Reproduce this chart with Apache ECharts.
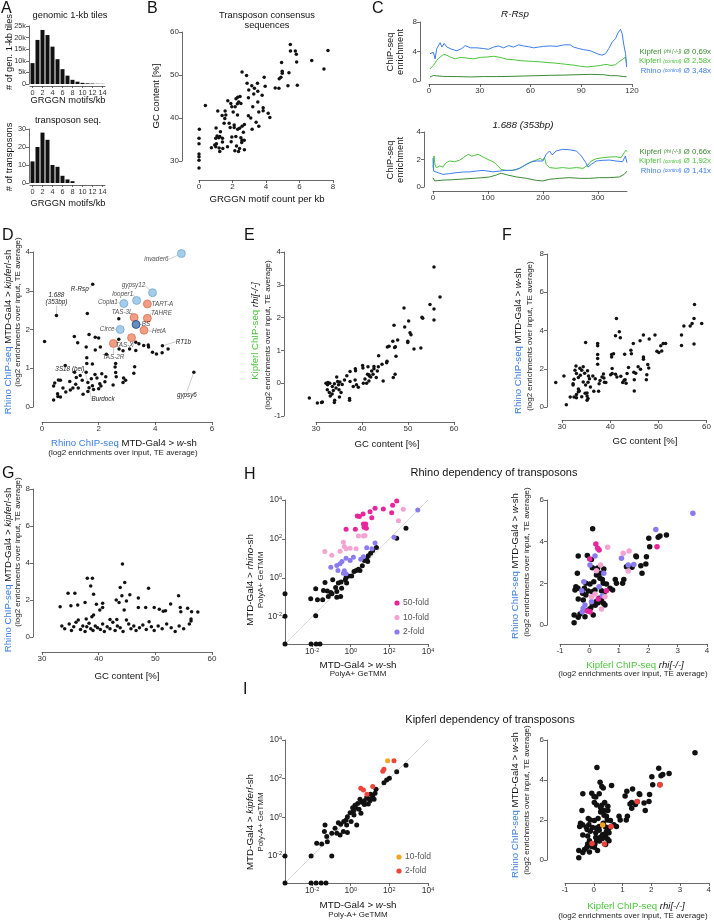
<!DOCTYPE html>
<html><head><meta charset="utf-8">
<script src="https://cdn.jsdelivr.net/npm/echarts@6/dist/echarts.min.js"></script>
<style>html,body{margin:0;padding:0;background:#fff}#c{width:714px;height:921px}</style>
</head><body><div id="c"></div><script>
// ---------------- DATA ----------------
const motifBins = ['0','1','2','3','4','5','6','7','8','9','10','11','12','13','14'];
const genomeTileCounts = [9000,19000,23300,21100,16100,10700,6400,3600,1800,1000,500,300,200,100,80];
const transposonCounts = [12,20,28,24,10,9,4,2,1,0,0,0,0,0,0];

// B: [GRGGN motif count per kb, GC content %]
const bPoints = [[5.45,57.1],[7.7,55.7],[5.46,55.6],[5.75,55.6],[5.81,54.8],[4.93,52.9],[5.83,53],[6.73,53.4],[7.46,51.4],[2.57,50.7],[2.84,49.9],[4.97,50.9],[4.97,50.4],[5.37,50.5],[4.89,49.5],[4.79,49.1],[3.89,49.5],[2.87,48.1],[3.49,48.1],[3.15,47.5],[3.31,46.9],[3.95,47.4],[4.55,47],[4.77,46.9],[5.31,47.5],[5.87,47.6],[2.97,46.5],[3.51,46.2],[3.27,45.6],[3.77,45.3],[2.95,44.7],[2.45,45],[2.31,44.8],[2.21,44.5],[1.72,44],[0.38,42.9],[2.37,43.7],[1.9,43.4],[2.29,43.3],[2.5,43.4],[1.12,41.6],[1.56,41.6],[1.96,42.6],[2.04,41.4],[2.16,42.6],[3.51,43.7],[3.21,42.6],[3.83,42.4],[3.83,41.7],[3.57,41.4],[4.13,41.1],[4.23,40.1],[1.38,40.6],[1.6,40.7],[1.54,39.9],[1.5,38.8],[1.8,38.8],[2.1,38.4],[2.3,40.7],[2.95,40.5],[3.09,40],[2.71,38.5],[3.41,39],[3.57,38.1],[3.17,37.4],[2.31,37.4],[1.02,37.7],[1.28,36.8],[1.86,37.8],[2.1,37.8],[2.42,37.6],[2.57,38.1],[2.65,36.7],[1.08,35.8],[1.24,35.7],[1.0,35.3],[1.18,35.4],[1.4,35.3],[1.96,35.6],[2.2,35.7],[2.5,35.4],[2.7,34.8],[2.55,34.3],[1.92,34.5],[1.4,34.4],[1.04,34],[0.94,33.7],[1.0,33.3],[0.74,33.1],[1.7,33.3],[1.2,33],[1.42,32.9],[2.24,33.5],[2.14,32.4],[2.36,32.2],[2.42,32.9],[2.71,32.6],[2.57,34.8],[1.24,32.2],[0.02,37.4],[0,35.3],[0,34],[0,31.6],[0,31],[0,30.2],[0,28.4]];

// C top (R-Rsp): [position, enrichment]
const rrspRhino = [[0.6,3.7],[2.6,3.9],[3.6,3.0],[4.6,4.4],[6.6,5.2],[7.6,4.6],[9,5.1],[10.6,4.6],[13.5,4.3],[16.5,4.1],[19.4,4.4],[21.4,4.8],[24.4,4.5],[28.3,4.5],[32.3,4.4],[35.2,4.3],[38.2,4.6],[41.1,4.75],[44.1,4.5],[47.1,4.8],[50,4.6],[53,4.9],[56,4.75],[58.9,4.65],[61.9,4.5],[64.8,4.6],[67.8,4.7],[71.7,4.75],[75.7,4.7],[79.6,4.9],[83.5,4.9],[85.5,4.6],[88.5,4.4],[91.5,4.25],[95.4,4.1],[99.4,3.7],[102.3,3.5],[104.3,3.7],[106.3,4.4],[108.3,5.3],[110.3,5.75],[111.6,6.5],[113.2,7.0],[114.2,6.4],[115.2,4.85],[116.2,3.7],[116.8,1.9]];
const rrspKipCtrl = [[0.6,1.67],[2.6,2.1],[4.6,2.8],[6.6,3.25],[8.6,3.6],[10.6,3.5],[12.5,3.25],[15.5,3.0],[18.5,3.2],[22.4,3.1],[26.4,3.0],[30.3,3.2],[34.2,3.25],[38.2,3.35],[42.1,3.2],[46.1,2.95],[50,2.9],[54,2.75],[57.9,2.7],[61.9,2.65],[65.8,2.6],[69.8,2.5],[73.7,2.45],[77.7,2.35],[81.6,2.25],[85.5,2.15],[89.5,2.0],[93.4,1.9],[97.4,2.0],[101.3,2.1],[103.3,2.2],[105.3,2.25],[107.3,2.1],[110.2,2.2],[112.2,2.6],[113.2,2.45],[114.2,2.9],[115.2,2.8],[116.2,3.25],[116.8,2.35]];
const rrspKipRhi = [[0.6,0.55],[2.6,0.75],[4.6,0.7],[8.6,0.62],[16.5,0.6],[24.4,0.55],[32.3,0.6],[40.1,0.6],[48,0.62],[55.9,0.68],[63.8,0.72],[71.7,0.77],[79.6,0.8],[87.5,0.85],[95.4,0.9],[103.3,0.85],[107.3,0.72],[111.2,0.72],[115.2,0.6],[116.8,0.58]];
// C bottom (1.688)
const s1688KipCtrl = [[0,1.4],[1.8,2.26],[3.6,1.65],[6,1.4],[12,1.53],[18,1.45],[24,1.77],[30,1.89],[39,1.84],[48,1.94],[55,2.13],[64,2.38],[70,2.25],[76,2.3],[82,2.38],[88,2.25],[94,2.13],[100,2.0],[106,1.89],[112,1.77],[118,1.53],[124,1.28],[133,1.21],[142,1.21],[152,1.26],[161,1.45],[170,1.65],[179,1.84],[188,1.96],[195,2.08],[200,1.96],[203,2.13],[206,1.65],[212,1.41],[224,1.36],[236,1.41],[248,1.36],[261,1.41],[273,1.36],[282,1.6],[288,1.89],[297,2.06],[309,2.13],[321,2.18],[333,2.2],[342,2.13],[348,2.5],[351,2.67],[353,2.57]];
const s1688Rhino = [[0,2.1],[1,1.16],[3.6,1.28],[9,1.04],[18,0.92],[30,0.97],[42,1.04],[55,1.09],[67,1.1],[79,1.16],[91,1.21],[100,1.16],[109,1.1],[121,1.16],[133,1.21],[145,1.21],[158,1.36],[170,1.65],[179,1.82],[188,1.89],[200,1.89],[206,2.38],[212,2.62],[217,2.33],[224,2.62],[236,2.74],[248,2.71],[261,2.62],[270,2.25],[278,1.77],[282,1.45],[288,1.65],[297,1.89],[309,1.94],[321,1.96],[333,1.89],[345,1.84],[350,2.25],[353,1.77]];
const s1688KipRhi = [[0,0.68],[3,0.44],[6,0.56],[18,0.5],[36,0.53],[55,0.58],[73,0.63],[91,0.68],[103,0.73],[115,0.87],[124,1.0],[136,0.87],[152,0.73],[170,0.63],[188,0.48],[200,0.44],[212,0.56],[230,0.63],[248,0.68],[267,0.63],[285,0.63],[303,0.68],[321,0.68],[339,0.73],[348,0.92],[353,1.16]];
const cLegendTop = ['0,69x','2,58x','3,48x'];
const cLegendBottom = ['0,66x','1,92x','1,41x'];

// D: [Rhino w-sh, Rhino kipferl-sh]
const dBlueNames = ['invader6','gypsy12','looper1','Copia1','Circe'];
const dBlueValues = [[4.92,3.96],[3.9,2.95],[3.34,2.75],[2.89,2.67],[2.76,2.0]];
const dOrangeNames = ['TART-A','TAS-3L','TAHRE','HetA','TAS-X','TAS-2R'];
const dOrangeValues = [[3.72,2.66],[3.25,2.31],[3.72,2.29],[3.6,1.98],[3.16,1.79],[2.52,1.64]];
const dDarkNames = ['BS'];
const dDarkValues = [[3.32,2.13]];
const dLabeledNames = ['R-Rsp','1.688\n(353bp)','RT1b','gypsy6','3S18 (bel)','Burdock'];
const dLabeledValues = [[1.79,3.17],[0.51,2.36],[4.25,1.58],[5.36,0.9],[1.62,0.63],[1.66,0.5]];
const dOther = [[0.09,1.69],[1.6,2.41],[1.14,1.82],[1.26,1.66],[1.66,1.87],[1.88,1.8],[2.0,1.78],[1.56,1.55],[1.58,1.27],[1.58,1.12],[1.78,1.11],[1.88,1.47],[2.06,1.55],[2.27,1.36],[2.71,1.75],[2.71,2.28],[2.72,1.5],[2.86,1.45],[3.09,1.5],[3.31,1.67],[3.31,1.46],[3.42,1.63],[3.59,1.59],[3.75,1.6],[3.76,1.55],[3.9,1.41],[4.04,1.37],[4.24,1.4],[4.45,1.5],[0.82,1.07],[1.56,0.9],[1.35,0.81],[1.21,0.76],[1.15,0.9],[1.42,0.69],[1.74,0.73],[1.87,0.84],[1.94,0.75],[2.11,0.86],[2.25,0.78],[2.22,0.65],[2.04,0.6],[2.0,0.47],[2.08,0.54],[1.78,0.55],[1.82,0.45],[1.62,0.4],[1.45,0.33],[1.28,0.49],[1.19,0.59],[1.09,0.49],[0.98,0.66],[1.0,0.44],[0.84,0.39],[0.74,0.49],[0.55,0.34],[0.56,0.27],[0.65,0.26],[0.45,0.62],[0.41,0.54],[0.65,0.69],[0.41,0.18],[0.58,0.7],[2.6,1.12],[2.58,1.03],[2.6,0.89],[2.62,0.78],[2.51,0.57],[2.88,0.75],[2.95,0.69],[2.86,0.63],[3.27,1.04],[3.24,0.87]];

// E: [GC %, Kipferl rhi-/-]
const ePoints = [[55.65,3.54],[56.96,2.63],[54.78,2.4],[55.65,2.26],[55.65,1.93],[53.04,2.01],[53.2,1.98],[49.13,2.29],[50.14,1.9],[49.28,1.71],[46.96,1.77],[50.43,1.54],[50.65,1.48],[47.75,1.32],[46.7,1.28],[49.95,1.28],[49.95,1.24],[45.87,1.13],[45.51,1.1],[47.25,1.11],[47.1,1.09],[51.3,1.04],[52.8,1.07],[47.39,0.82],[43.62,0.84],[45.43,0.67],[45.36,0.62],[44.35,0.58],[43.55,0.5],[42.6,0.51],[42.6,0.44],[42.1,0.37],[42.4,0.27],[43.33,0.37],[43.1,0.17],[41.5,0.26],[41.9,0.19],[40.14,0.54],[41.3,0.5],[40.2,0.46],[41.2,0.27],[40.65,0.13],[40.29,0.0],[41.0,0.0],[41.5,0.07],[44.6,0.07],[47.2,0.27],[46.8,0.17],[38.55,0.44],[37.4,0.36],[36.7,0.23],[37.4,0.05],[38.5,0.1],[38.8,-0.05],[38.1,-0.1],[39.2,-0.12],[36.2,0.1],[35.7,-0.04],[35.2,0.04],[34.9,-0.05],[34.7,0.05],[34.35,-0.15],[34.5,0.19],[34.0,-0.02],[33.0,0.0],[32.6,0.02],[32.46,-0.2],[32.9,-0.28],[33.5,-0.33],[33.1,-0.39],[33.77,-0.22],[33.55,-0.1],[33.98,-0.59],[34.06,-0.52],[35.1,-0.42],[35.45,-0.28],[35.0,-0.2],[32.17,0.0],[32.5,-0.05],[37.3,-0.47],[37.3,-0.52],[30.3,-0.6],[31.2,-0.59],[31.4,-0.57],[28.55,-0.45],[38.6,0.38],[41.6,0.22]];

// F: [GC %, Rhino w-sh]
const fPoints = [[57.5,5.36],[57.4,4.63],[57,4.37],[56.6,4.24],[59,4.37],[55.3,4.23],[54.8,3.77],[57.4,3.3],[54.8,3.21],[49.3,3.77],[48.1,3.56],[46.9,3.76],[46.2,3.46],[44.8,3.32],[51,3.32],[51.5,3.32],[50.5,3.2],[49.7,2.92],[50.1,2.85],[50.7,2.93],[46.9,2.62],[46.9,2.5],[44.3,2.97],[44.4,2.79],[43,2.76],[42.1,3.62],[41.3,4.63],[41.9,3.93],[41.1,3.72],[40.7,2.79],[40.3,2.74],[40.3,2.62],[40.4,2.01],[40.4,1.75],[41.1,1.71],[40.1,1.69],[41.4,1.57],[42.2,1.61],[42.6,1.28],[43.3,1.24],[43.5,1.75],[43.8,2.06],[44.9,1.82],[45.3,1.76],[45.8,2.1],[46.3,1.97],[47.6,1.68],[47.5,1.43],[47.8,2.22],[48,2.04],[45,1.43],[45,0.84],[42.9,1.4],[37.4,3.32],[37.4,3.2],[37.4,2.74],[37.4,2.53],[37.4,2.24],[34.9,3.37],[34.4,2.1],[33.7,2.03],[34.1,1.92],[32.9,2.15],[32.7,1.92],[35.3,1.89],[34.7,1.76],[33,1.75],[33.8,1.66],[33.4,1.54],[32.5,1.45],[32.3,1.22],[34.4,1.31],[35.7,1.48],[35.5,1.62],[36.4,1.62],[36.9,1.48],[38.3,1.57],[38.6,1.73],[38.7,1.52],[39.1,1.28],[38.8,1.29],[37.9,1.38],[37.7,1.22],[37.6,0.82],[36.6,0.82],[35.9,1.05],[35.4,1.29],[34.9,1.15],[33.4,0.94],[33.6,0.84],[34.8,0.72],[35.2,0.73],[35.2,0.58],[35.4,0.45],[35.2,0.35],[34.1,0.54],[33.4,0.8],[33,0.66],[33,0.49],[32.5,0.52],[31.7,0.52],[32.3,1.15],[30.9,0.12],[30.4,1.62],[28.7,1.28],[43.1,1.43]];

// G: [GC %, Rhino kipferl-sh]
const gPoints = [[33.2,1.64],[34.6,2.36],[35.1,1.69],[35.8,2.36],[36.3,1.73],[37.6,1.86],[38.0,3.17],[38.9,3.17],[38.6,2.76],[39.1,2.31],[39.6,1.77],[40.2,1.46],[40.7,1.82],[40.7,1.6],[38.8,1.1],[39.1,1.19],[37.8,0.97],[42,0.95],[43.1,2.0],[43.6,1.86],[43.8,2.67],[44.2,3.95],[44.6,2.95],[44.1,2.23],[44.5,1.46],[44.9,1.95],[45.5,2.29],[43.2,0.95],[47,2.11],[47,1.59],[48.8,2.63],[48.3,1.6],[49.8,1.59],[50.7,1.5],[51.4,1.39],[51.8,1.42],[52.7,1.78],[54.1,2.23],[54.4,1.59],[54.5,1.37],[55.7,1.55],[56.4,1.37],[56.3,0.97],[56.3,0.86],[57.5,1.35],[33.5,0.6],[34,0.45],[34.8,0.7],[35.2,0.35],[35.6,0.55],[36,0.8],[36.4,0.92],[36.8,0.4],[37.2,0.6],[37.6,0.3],[37.9,0.55],[38.3,0.75],[38.6,0.45],[39,0.35],[39.4,0.6],[39.8,0.5],[40.3,0.4],[40.7,0.7],[41,0.3],[41.5,0.55],[42,0.45],[42.5,0.8],[42.9,0.35],[43.3,0.6],[43.8,0.5],[44.3,0.3],[44.9,0.92],[45.3,0.7],[45.7,0.45],[46.2,0.6],[46.6,0.35],[47.2,0.5],[47.8,0.65],[48.4,0.4],[48.9,0.83],[49.3,0.55],[49.8,0.35],[50.5,0.6],[51.2,0.45],[52,0.7],[52.8,0.5],[53.5,0.3],[54.2,0.6],[55,0.45],[56,0.7]];

// H left: log10 GeTMM [w-sh, rhino-sh]; -Infinity = 0 GeTMM
const hl50fold = [[2.38,3.95],[2.17,3.73],[1.69,3.54],[1.26,3.57],[1.0,3.4],[0.64,3.28],[0.45,3.15],[0.34,3.18],[1.09,3.09],[0.78,2.77],[0.66,2.77],[0.69,2.6],[0.81,2.55],[0.24,2.5],[-0.24,2.5],[2.12,3.35]];
const hl10fold = [[2.72,3.52],[2.47,2.94],[0.74,2.17],[0.66,2.15],[0.4,2.15],[-0.03,1.52],[-0.33,1.61],[-0.55,1.37],[-1.34,1.35],[-0.98,1.16],[-0.24,1.5],[0.28,1.5],[-0.38,1.83]];
const hl2fold = [[3.47,3.49],[2.24,2.09],[1.26,1.79],[1.1,1.5],[0.83,1.54],[0.66,1.09],[0.52,0.96],[0.14,1.06],[-0.03,0.89],[-0.24,1.01],[-0.45,0.84],[-0.55,0.72],[-0.72,0.63],[-1.03,0.55],[-0.66,0.38],[-0.33,0.36],[-0.38,0.24],[-0.24,0.21]];
const hlOther = [[2.86,2.55],[2.38,2.03],[1.33,1.56],[1.14,1.4],[1.03,1.26],[0.91,1.13],[0.88,0.84],[0.71,0.89],[0.83,0.97],[0.6,0.62],[0.48,0.38],[0.4,0.44],[0.28,0.38],[0.17,0.32],[0.05,0.1],[-0.12,0.1],[-0.24,0.02],[-0.28,-0.1],[-0.21,-0.27],[-0.5,-0.22],[-0.64,-0.27],[-0.93,-0.1],[-0.78,-0.5],[-0.72,-0.7],[-0.97,-0.82],[-1.21,-0.67],[-1.03,-0.75],[-1.16,-0.96],[-1.41,-0.65],[-1.45,-1.13],[-1.72,-1.13],[-2.07,-1.08],[-1.81,-0.56],[-1.33,-0.24],[-0.52,-0.96],[-0.72,-1.0],[-0.47,-0.53],[-1.81,-1.95],[-Infinity,-0.82],[-Infinity,-1.98],[-Infinity,-Infinity],[-2.05,-Infinity],[-1.79,-Infinity],[-1.59,-Infinity]];

// H right: [Kipferl rhi-/-, Rhino w-sh]
const hr2fold = [[3.52,5.36],[2.26,4.59],[1.09,3.2],[1.32,2.88],[1.51,2.91],[0.19,3.31],[0.02,2.88],[0.49,2.48],[-0.19,2.08],[-0.26,1.65],[0.33,1.84],[0.44,1.41],[0.07,1.12],[-0.15,0.96],[-0.21,0.8],[-0.24,0.64]];
const hr50fold = [[0.22,3.89],[0.28,3.68],[0.33,3.6],[0.01,3.17],[2.3,3.76],[0.58,1.65],[0.02,0.64],[-0.07,0.67],[0.3,1.25]];
const hr10fold = [[0.62,3.73],[1.15,3.44],[1.35,3.55],[1.32,2.59],[0.38,2.88],[0.24,2.61],[0.53,1.36],[0.41,0.77],[0.07,1.36],[0.19,1.49]];
const hrOther = [[0.11,4.62],[2.34,4.21],[2.02,4.16],[2.62,4.32],[2.4,4.27],[2.05,3.76],[1.94,3.28],[1.58,3.31],[1.75,2.85],[1.79,2.48],[1.26,2.8],[-0.07,3.34],[-0.38,3.31],[0.07,3.15],[0.1,2.75],[0.28,2.74],[0.49,2.69],[0.44,2.19],[0.47,2.0],[0.58,1.97],[0.24,2.4],[0.15,2.08],[0.02,1.97],[-0.12,2.0],[-0.41,2.48],[-0.46,1.84],[-0.39,1.76],[-0.49,1.68],[-0.38,1.25],[-0.12,1.44],[-0.04,1.63],[0.1,1.6],[0.19,1.68],[0.33,1.28],[0.41,1.2],[0.22,1.12],[0.1,0.96],[0.04,0.8],[0.13,0.48],[-0.04,0.72],[-0.15,0.4],[-0.32,0.53],[-0.38,0.37],[-0.52,0.48],[-0.52,0.11],[0.7,1.76],[0.79,1.68],[0.88,2.19],[0.92,2.0],[1.13,2.0],[1.17,2.19],[1.6,3.28],[1.92,2.93],[1.45,2.77],[0.41,1.65],[0.5,1.55],[0.3,1.07],[0.53,0.96],[0.48,1.05],[0.2,0.95],[-0.21,1.2],[-0.23,1.52],[-0.17,1.76],[0.36,2.48],[0.36,2.24]];

// I left: log10 GeTMM [w-sh, kipferl-sh]
const il10fold = [[1.91,2.93]];
const il2fold = [[2.24,2.93],[1.72,2.48],[1.66,2.38],[0.52,1.5],[0.66,1.41],[0.84,1.19],[1.14,1.59]];
const ilOther = [[2.86,2.69],[2.38,2.36],[2.0,2.02],[1.86,1.93],[1.72,1.79],[1.31,1.45],[1.26,1.24],[1.14,1.07],[1.03,1.19],[0.97,0.93],[0.83,1.03],[0.71,0.86],[0.57,0.78],[0.48,0.93],[0.36,0.72],[0.22,0.62],[0.28,0.47],[0.1,0.5],[0.14,0.31],[-0.03,0.24],[-0.17,0.03],[-0.24,-0.14],[0.31,-0.4],[-0.36,-0.22],[-0.52,-0.36],[-0.64,-0.28],[-0.81,-0.57],[-0.38,-0.74],[-0.55,-0.91],[-0.72,-0.83],[-0.98,-0.83],[-1.24,-1.0],[-1.36,-0.74],[-1.21,-1.26],[-1.5,-1.38],[-1.76,-1.34],[-1.33,-0.4],[-2.05,-2],[-0.98,-2],[-0.21,-0.4],[0.02,-0.22],[0.17,0.12],[0.43,0.41],[0.71,0.66],[0.91,0.69],[1.0,0.86],[1.21,0.93],[0.53,0.21],[-0.17,-0.79],[-Infinity,-2],[-Infinity,-Infinity],[-2.05,-Infinity],[-1.79,-Infinity],[-1.53,-Infinity],[-1.28,-Infinity]];

// I right: [Kipferl rhi-/-, Rhino w-sh]
const ir2fold = [[2.3,3.76],[1.51,2.92],[0.6,1.67],[0.37,0.8],[-0.06,0.83]];
const ir10fold = [[0.31,1.75]];

// ---------------- STYLE / LAYOUT ----------------
const FF = "'Liberation Sans', Arial, Helvetica, sans-serif";
const BLUE = '#3b7de0', GREEN = '#4cc63c', DKGREEN = '#3a8a30';
const C_RHINO = '#3d7df0', C_KCTRL = '#4ac43a', C_KRHI = '#3b8a35';
const MAG = '#e8259b', PINK = '#f4a3d2', PURP = '#8a7cf0', ORG = '#f7a21b', RED = '#f0433a', BLK = '#111';
const LOG_MIN = -3.4, LOG_MAX = 4;
const NAME1 = 9.6, NAME2 = 8, TITLE = 9.6;

function T(text, x, y, o) {
  o = o || {};
  const size = o.size || 10;
  const st = {text: text, fontFamily: FF, fontSize: size, fontStyle: o.italic ? 'italic' : 'normal',
    fill: o.color || '#111', align: o.align || 'center', verticalAlign: o.va || 'middle',
    textAlign: o.align || 'center', textVerticalAlign: o.va || 'middle'};
  if (o.rich) {
    st.rich = {};
    for (const k in o.rich) st.rich[k] = Object.assign({fontFamily: FF, fontSize: size, fill: o.color || '#111', color: o.color || '#111'}, o.rich[k]);
  }
  return {type: 'text', x: x, y: y, rotation: o.rot ? Math.PI / 2 : 0, silent: true, style: st};
}
const RICH = {
  b: {fill: BLUE, color: BLUE},
  g: {fill: GREEN, color: GREEN},
  i: {fontStyle: 'italic'}
};
function letter(t, x, y) { return T(t, x, y, {size: 16, align: 'left', va: 'top'}); }

const grids = [
  {left: 30, top: 26, width: 75, height: 58},     // 0 A top
  {left: 30, top: 129, width: 75, height: 54},    // 1 A bottom
  {left: 199, top: 32, width: 134, height: 129},  // 2 B
  {left: 429, top: 22, width: 203, height: 59},   // 3 C top
  {left: 433, top: 132, width: 194, height: 55},  // 4 C bottom
  {left: 42, top: 252, width: 170, height: 155},  // 5 D
  {left: 316, top: 252, width: 138, height: 164}, // 6 E
  {left: 562, top: 254, width: 149, height: 153}, // 7 F
  {left: 42, top: 489, width: 170, height: 148},  // 8 G
  {left: 285, top: 500, width: 143, height: 144}, // 9 H left
  {left: 560, top: 500, width: 147, height: 125}, // 10 H right
  {left: 285, top: 740, width: 143, height: 143}, // 11 I left
  {left: 565, top: 740, width: 146, height: 120}  // 12 I right
];

function axisBase(gi, o) {
  return {
    gridIndex: gi, offset: o.offset || 0,
    axisLine: {show: true, onZero: false, lineStyle: {color: '#444', width: 0.8}},
    axisTick: {show: true, length: 3, lineStyle: {color: '#444', width: 0.8}},
    axisLabel: {fontSize: o.fs || 8.5, color: '#333', fontFamily: FF, margin: o.margin || 3},
    splitLine: {show: false}
  };
}
function vAxis(gi, min, max, o) {
  o = o || {};
  const a = axisBase(gi, o);
  a.type = 'value'; a.min = min; a.max = max;
  if (o.interval !== undefined) a.interval = o.interval;
  if (o.cv) { a.axisLabel.customValues = o.cv; a.axisTick.customValues = o.cv; }
  if (o.fmt) a.axisLabel.formatter = o.fmt;
  if (o.rich) a.axisLabel.rich = o.rich;
  return a;
}
const supRich = {
  n: {fontSize: 8.5, fontFamily: FF, color: '#333'},
  s: {fontSize: 5.5, fontFamily: FF, color: '#333', verticalAlign: 'top', padding: [0, 0, 4, 0]}
};
const supFmt = v => '{n|10}{s|' + v + '}';
function catAxis(gi) {
  return Object.assign(axisBase(gi, {offset: 2}), {type: 'category', data: motifBins,
    axisLabel: {fontSize: 7.3, color: '#333', fontFamily: FF, margin: 3, interval: 1},
    axisTick: {show: true, length: 2, alignWithLabel: true, interval: 1, lineStyle: {color: '#444', width: 0.8}}});
}

const xAxes = [
  catAxis(0), catAxis(1),
  vAxis(2, 0, 8, {interval: 2, offset: 19, fs: 8}),
  vAxis(3, 0, 120, {interval: 30, offset: 3, fs: 8}),
  vAxis(4, 0, 353, {cv: [0, 100, 200, 300], offset: 4, fs: 8}),
  vAxis(5, 0, 6, {interval: 2, offset: 15, fs: 8}),
  vAxis(6, 30, 60, {interval: 10, offset: 6, fs: 8}),
  vAxis(7, 30, 60, {interval: 10, offset: 13, fs: 8}),
  vAxis(8, 30, 60, {interval: 10, offset: 15, fs: 8}),
  vAxis(9, LOG_MIN, LOG_MAX, {cv: [-2, 0, 2, 4], fmt: supFmt, rich: supRich}),
  vAxis(10, -1, 4, {interval: 1, offset: 19, fs: 8}),
  vAxis(11, LOG_MIN, LOG_MAX, {cv: [-2, 0, 2, 4], fmt: supFmt, rich: supRich}),
  vAxis(12, -1, 4, {interval: 1, offset: 23, fs: 8})
];
const yAxes = [
  vAxis(0, 0, 25000, {interval: 5000, fs: 7.3, offset: 1, fmt: v => v === 0 ? '0' : (v / 1000) + 'k'}),
  vAxis(1, 0, 30, {interval: 10, fs: 7.3, offset: 1}),
  vAxis(2, 30, 60, {interval: 10, offset: 17, fs: 8}),
  vAxis(3, 0, 8, {interval: 4, offset: 9, fs: 8}),
  vAxis(4, 0, 4, {interval: 2, offset: 9, fs: 8}),
  vAxis(5, 0, 4, {interval: 1, offset: 9, fs: 8}),
  vAxis(6, -1, 4, {interval: 1, offset: 32, fs: 8}),
  vAxis(7, 0, 8, {interval: 2, offset: 15, fs: 8}),
  vAxis(8, 0, 8, {interval: 2, offset: 9, fs: 8}),
  vAxis(9, LOG_MIN, LOG_MAX, {cv: [-2, 0, 2, 4], fmt: supFmt, rich: supRich}),
  vAxis(10, 0, 6, {interval: 2, offset: 13, fs: 8}),
  vAxis(11, LOG_MIN, LOG_MAX, {cv: [-2, 0, 2, 4], fmt: supFmt, rich: supRich}),
  vAxis(12, 0, 6, {interval: 2, offset: 18, fs: 8})
];

function dots(gi, data, color, size, extra) {
  return Object.assign({type: 'scatter', xAxisIndex: gi, yAxisIndex: gi, data: data, symbolSize: size,
    itemStyle: {color: color, opacity: 1}, clip: false, silent: true, animation: false}, extra || {});
}
function line(gi, data, color) {
  return {type: 'line', xAxisIndex: gi, yAxisIndex: gi, data: data, showSymbol: false, symbol: 'none',
    lineStyle: {color: color, width: 1}, silent: true, animation: false, clip: false};
}
const floorLog = arr => arr.map(p => [Math.max(p[0], LOG_MIN), Math.max(p[1], LOG_MIN)]);

// label offsets for panel D annotations (pixels from point to label centre)
const dBlueOff = [[-25, 6], [-19, -7], [-14, -6], [-16, -1], [-13, 0]];
const dOrangeOff = [[15, 0], [-12, -5], [14, -5], [15, 1], [-7, 8], [0, 14]];
const dDarkOff = [[10, 0]];
const dLabeledOff = [[-13, 5], [0, -17], [21, -4], [-7, 23], [-18, -13], [14, 12]];
function named(names, values) { return names.map((n, i) => ({name: n, value: values[i]})); }
function annot(offs) {
  return {
    label: {show: true, position: 'inside', formatter: '{b}', fontSize: 6.3, fontStyle: 'italic', color: '#222', fontFamily: FF, lineHeight: 7},
    labelLayout: p => ({dx: offs[p.dataIndex][0], dy: offs[p.dataIndex][1]}),
    labelLine: {show: true, lineStyle: {color: '#999', width: 0.5}}
  };
}

const series = [
  {type: 'bar', xAxisIndex: 0, yAxisIndex: 0, data: genomeTileCounts, barWidth: 4, itemStyle: {color: BLK}, silent: true, animation: false},
  {type: 'bar', xAxisIndex: 1, yAxisIndex: 1, data: transposonCounts, barWidth: 4, itemStyle: {color: BLK}, silent: true, animation: false},
  dots(2, bPoints, BLK, 3.5),
  line(3, rrspKipRhi, C_KRHI), line(3, rrspKipCtrl, C_KCTRL), line(3, rrspRhino, C_RHINO),
  line(4, s1688KipRhi, C_KRHI), line(4, s1688KipCtrl, C_KCTRL), line(4, s1688Rhino, C_RHINO),
  dots(5, dOther, BLK, 3.5),
  dots(5, named(dLabeledNames, dLabeledValues), BLK, 3.5, annot(dLabeledOff)),
  dots(5, named(dBlueNames, dBlueValues), '#8dc0e6', 8, Object.assign({itemStyle: {color: '#8dc0e6', borderColor: '#6a9cc4', borderWidth: 0.8}}, annot(dBlueOff))),
  dots(5, named(dOrangeNames, dOrangeValues), '#ef8565', 8, Object.assign({itemStyle: {color: '#ef8565', borderColor: '#cf6446', borderWidth: 0.8}}, annot(dOrangeOff))),
  dots(5, named(dDarkNames, dDarkValues), '#3b73ad', 8, Object.assign({itemStyle: {color: '#3b73ad', borderColor: '#1f4b7a', borderWidth: 1}}, annot(dDarkOff))),
  dots(6, ePoints, BLK, 3.5),
  dots(7, fPoints, BLK, 3.5),
  dots(8, gPoints, BLK, 3.5),
  {type: 'line', xAxisIndex: 9, yAxisIndex: 9, data: [[LOG_MIN, LOG_MIN], [LOG_MAX, LOG_MAX]], symbol: 'none', lineStyle: {color: '#999', width: 0.8, type: 'dotted'}, silent: true, animation: false, z: 1},
  dots(9, floorLog(hlOther), BLK, 5),
  dots(9, floorLog(hl2fold), PURP, 5),
  dots(9, floorLog(hl10fold), PINK, 5),
  dots(9, floorLog(hl50fold), MAG, 5),
  dots(10, hrOther, BLK, 5.5),
  dots(10, hr2fold, PURP, 5.5),
  dots(10, hr10fold, PINK, 5.5),
  dots(10, hr50fold, MAG, 5.5),
  {type: 'line', xAxisIndex: 11, yAxisIndex: 11, data: [[LOG_MIN, LOG_MIN], [LOG_MAX, LOG_MAX]], symbol: 'none', lineStyle: {color: '#999', width: 0.8, type: 'dotted'}, silent: true, animation: false, z: 1},
  dots(11, floorLog(ilOther), BLK, 5),
  dots(11, floorLog(il2fold), RED, 5),
  dots(11, floorLog(il10fold), ORG, 5),
  dots(12, hrOther.concat(hr2fold, hr10fold, hr50fold), BLK, 5.5),
  dots(12, ir10fold, ORG, 5.5),
  dots(12, ir2fold, RED, 5.5)
];

function cLegend(y0, vals) {
  const rich = {a: {fontSize: 7.8}, s: {fontSize: 5, fontStyle: 'italic'}};
  return [
    T('{a|Kipferl }{s|(rhi [-/-])}{a| Ø ' + vals[0] + '}', 711, y0, {align: 'right', color: DKGREEN, size: 7.8, rich: rich}),
    T('{a|Kipferl }{s|(control)}{a| Ø ' + vals[1] + '}', 711, y0 + 9.3, {align: 'right', color: C_KCTRL, size: 7.8, rich: rich}),
    T('{a|Rhino }{s|(control)}{a| Ø ' + vals[2] + '}', 711, y0 + 18.6, {align: 'right', color: C_RHINO, size: 7.8, rich: rich})
  ];
}
function legendDots(items, x, y0, gap) {
  const out = [];
  items.forEach((it, i) => {
    out.push({type: 'circle', shape: {cx: x, cy: y0 + i * gap, r: 2.6}, style: {fill: it[1]}, silent: true});
    out.push(T(it[0], x + 6, y0 + i * gap, {align: 'left', size: 8.5, color: '#555'}));
  });
  return out;
}

const rhinoW = '{b|Rhino ChIP-seq} MTD-Gal4 > {i|w}-sh';
const rhinoK = '{b|Rhino ChIP-seq} MTD-Gal4 > {i|kipferl}-sh';
const kipRhi = '{g|Kipferl ChIP-seq} {i|rhi[-/-]}';
const log2 = '(log2 enrichments over input, TE average)';

const graphics = [
  letter('A', 1, 1), letter('B', 147, 1), letter('C', 372, 1), letter('D', 2, 228), letter('E', 244, 228),
  letter('F', 502, 228), letter('G', 2, 466), letter('H', 244, 467), letter('I', 243, 682),
  T('genomic 1-kb tiles', 70, 15, {size: 9.3}),
  T('GRGGN motifs/kb', 68, 100, {size: 9.3}),
  T('transposon seq.', 68, 120, {size: 9.3}),
  T('GRGGN motifs/kb', 68, 203, {size: 9.3}),
  T('# of gen. 1-kb tiles', 9, 52, {size: 9.3, rot: true}),
  T('# of transposons', 9, 157, {size: 9.3, rot: true}),
  T('Transposon consensus', 267, 15, {size: 9.3}),
  T('sequences', 267, 25, {size: 9.3}),
  T('GC content [%]', 156, 96, {size: TITLE, rot: true}),
  T('GRGGN motif count per kb', 267, 199, {size: TITLE}),
  T('R-Rsp', 515, 14, {size: 9.8, italic: true}),
  T('1.688 (353bp)', 523, 125, {size: 9.8, italic: true}),
  T('ChIP-seq', 390, 52, {size: 9.3, rot: true}), T('enrichment', 400, 52, {size: 9.3, rot: true}),
  T('ChIP-seq', 390, 160, {size: 9.3, rot: true}), T('enrichment', 400, 160, {size: 9.3, rot: true}),
  ...cLegend(52, cLegendTop), ...cLegend(152, cLegendBottom),
  // D
  T(rhinoK, 8, 332, {size: NAME1, rot: true, rich: RICH}),
  T(log2, 18, 312, {size: NAME2, rot: true, color: '#222'}),
  T(rhinoW, 124, 443, {size: NAME1, rich: RICH}),
  T(log2, 123, 453, {size: NAME2, color: '#222'}),
  // E
  T(kipRhi, 255, 331, {size: NAME1, rot: true, rich: RICH}),
  T(log2, 268, 335, {size: NAME2, rot: true, color: '#222'}),
  T('GC content [%]', 387, 444, {size: TITLE}),
  // F
  T(rhinoW, 518, 341, {size: NAME1, rot: true, rich: RICH}),
  T(log2, 530, 336, {size: NAME2, rot: true, color: '#222'}),
  T('GC content [%]', 645, 441, {size: TITLE}),
  // G
  T(rhinoK, 8, 570, {size: NAME1, rot: true, rich: RICH}),
  T(log2, 18, 552, {size: NAME2, rot: true, color: '#222'}),
  T('GC content [%]', 127, 676, {size: TITLE}),
  // H
  T('Rhino dependency of transposons', 494, 473, {size: 11}),
  T('MTD-Gal4 > {i|rhino}-sh', 250, 580, {size: 9.8, rot: true, rich: RICH}),
  T('PolyA+ GeTMM', 261, 580, {size: NAME2, rot: true, color: '#222'}),
  T('MTD-Gal4 > {i|w}-sh', 358, 665, {size: 9.8, rich: RICH}),
  T('PolyA+ GeTMM', 358, 674, {size: NAME2, color: '#222'}),
  ...legendDots([['50-fold', MAG], ['10-fold', PINK], ['2-fold', PURP]], 397, 603, 14.5),
  T(rhinoW, 515, 566, {size: NAME1, rot: true, rich: RICH}),
  T(log2, 527, 562, {size: NAME2, rot: true, color: '#222'}),
  T(kipRhi, 635, 665, {size: NAME1, rich: RICH}),
  T(log2, 633, 674, {size: NAME2, color: '#222'}),
  // I
  T('Kipferl dependency of transposons', 490, 720, {size: 11}),
  T('MTD-Gal4 > {i|kipferl}-sh', 250, 822, {size: 9.8, rot: true, rich: RICH}),
  T('Poly-A+ GeTMM', 261, 822, {size: NAME2, rot: true, color: '#222'}),
  T('MTD-Gal4 > {i|w}-sh', 358, 905, {size: 9.8, rich: RICH}),
  T('Poly-A+ GeTMM', 358, 915, {size: NAME2, color: '#222'}),
  ...legendDots([['10-fold', ORG], ['2-fold', RED]], 399, 857, 14),
  T(rhinoW, 515, 805, {size: NAME1, rot: true, rich: RICH}),
  T(log2, 527, 800, {size: NAME2, rot: true, color: '#222'}),
  T(kipRhi, 636, 906, {size: NAME1, rich: RICH}),
  T(log2, 633, 916, {size: NAME2, color: '#222'})
];

const chart = echarts.init(document.getElementById('c'), null, {renderer: 'canvas'});
chart.setOption({
  animation: false,
  backgroundColor: '#fff',
  textStyle: {fontFamily: FF},
  grid: grids,
  xAxis: xAxes,
  yAxis: yAxes,
  series: series,
  graphic: {elements: graphics}
});
</script></body></html>
